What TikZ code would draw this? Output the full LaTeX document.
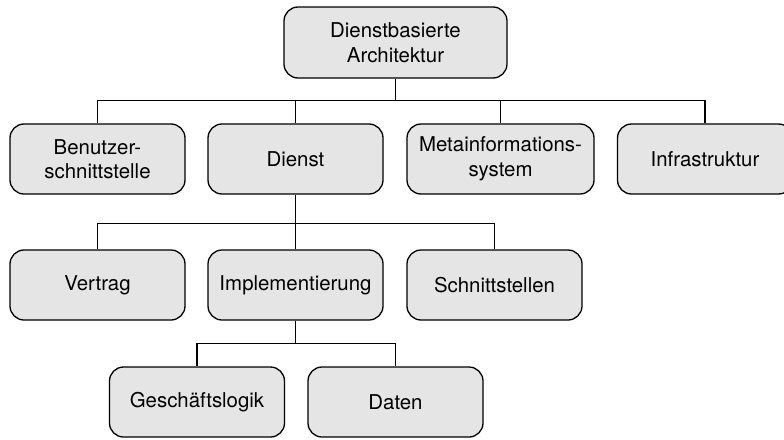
\documentclass[tikz,border=0pt]{standalone}
\usepackage{fontspec}
\setmainfont{TeX Gyre Heros}
\begin{document}
\begin{tikzpicture}[x=1pt,y=-1pt,
  box/.style={draw=black, line width=1.3pt, fill=boxgray, rounded corners=14pt,
    minimum width=175pt, minimum height=70pt, inner sep=0pt, align=center,
    font=\fontsize{20.4}{24.5}\selectfont},
  conn/.style={draw=black, line width=1.1pt}]
\definecolor{boxgray}{HTML}{E5E5E5}
\useasboundingbox (0,0) rectangle (784,439);
\clip (0,0) rectangle (784,439);
\node[box, minimum width=223pt, minimum height=71pt] (top) at (395.5,42.5) {Dienstbasierte\\Architektur};
\node[box] (ben) at (97.5,159) {Benutzer-\\schnittstelle};
\node[box] (dienst) at (295.5,159) {Dienst};
\node[box, minimum width=187pt] (meta) at (500.5,159) {Metainformations-\\system};
\node[box] (infra) at (705,159) {Infrastruktur};
\node[box] (vertrag) at (97.5,285) {Vertrag};
\node[box] (impl) at (295.5,285) {Implementierung};
\node[box] (schnitt) at (494.5,285) {Schnittstellen};
\node[box] (gesch) at (197,402) {Geschäftslogik};
\node[box] (daten) at (395.5,402) {Daten};
\foreach \c in {ben,dienst,meta,infra}
  \draw[conn] (top.south) -- ++(0,22) -| (\c.north);
\foreach \c in {vertrag,impl,schnitt}
  \draw[conn] (dienst.south) -- ++(0,29) -| (\c.north);
\foreach \c in {gesch,daten}
  \draw[conn] (impl.south) -- ++(0,23) -| (\c.north);
\end{tikzpicture}
\end{document}
